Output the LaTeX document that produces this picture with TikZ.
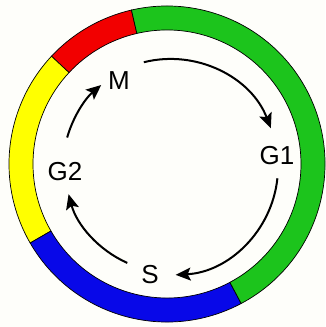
\documentclass[tikz,border=0pt]{standalone}
\usepackage{fontspec}
\setmainfont{Liberation Sans}
\usetikzlibrary{arrows.meta}
\definecolor{bgcol}{HTML}{FEFEFA}
\definecolor{segred}{HTML}{F20000}
\definecolor{segyellow}{HTML}{FFFF00}
\definecolor{segblue}{HTML}{0808E8}
\definecolor{seggreen}{HTML}{1CC41C}
\tikzset{
  lbl/.style={inner sep=0pt, font=\fontsize{26}{26}\selectfont},
  cyc/.style={line width=2pt, -{Stealth[length=15pt,width=13pt,inset=3pt]}},
  segline/.style={draw=black, line width=0.7pt}
}
\begin{document}
\begin{tikzpicture}[x=1pt,y=1pt]
\useasboundingbox (0,0) rectangle (325,327);
\fill[bgcol] (0,0) rectangle (325,327);
\coordinate (rc) at (167,163);
\coordinate (ac) at (170,160);
% ring
\foreach \a/\b/\c in {103/137/segred, 137/210/segyellow, 210/298/segblue, -62/103/seggreen}
  \filldraw[fill=\c, segline] ([shift={(\a:158)}]rc) arc[start angle=\a, end angle=\b, radius=158]
    -- ([shift={(\b:134)}]rc) arc[start angle=\b, end angle=\a, radius=134] -- cycle;
% labels
\node[lbl] (M) at (119,246) {M};
\node[lbl] (G1) at (277,171) {G1};
\node[lbl] (G2) at (65,155) {G2};
\node[lbl] (S) at (150,52) {S};
% arrow ends
\coordinate (m1) at ([shift={(104:108)}]ac);
\coordinate (g1a) at ([shift={(-6:108)}]ac);
\coordinate (s1) at ([shift={(246:105)}]ac);
\coordinate (g2a) at ([shift={(164:107)}]ac);
\draw[cyc] (m1) arc[start angle=104, end angle=21, radius=108];
\draw[cyc] (g1a) arc[start angle=-6, end angle=-87, radius=108];
\draw[cyc] (s1) arc[start angle=246, end angle=195, radius=105];
\draw[cyc] (g2a) arc[start angle=164, end angle=130, radius=107];
\end{tikzpicture}
\end{document}
